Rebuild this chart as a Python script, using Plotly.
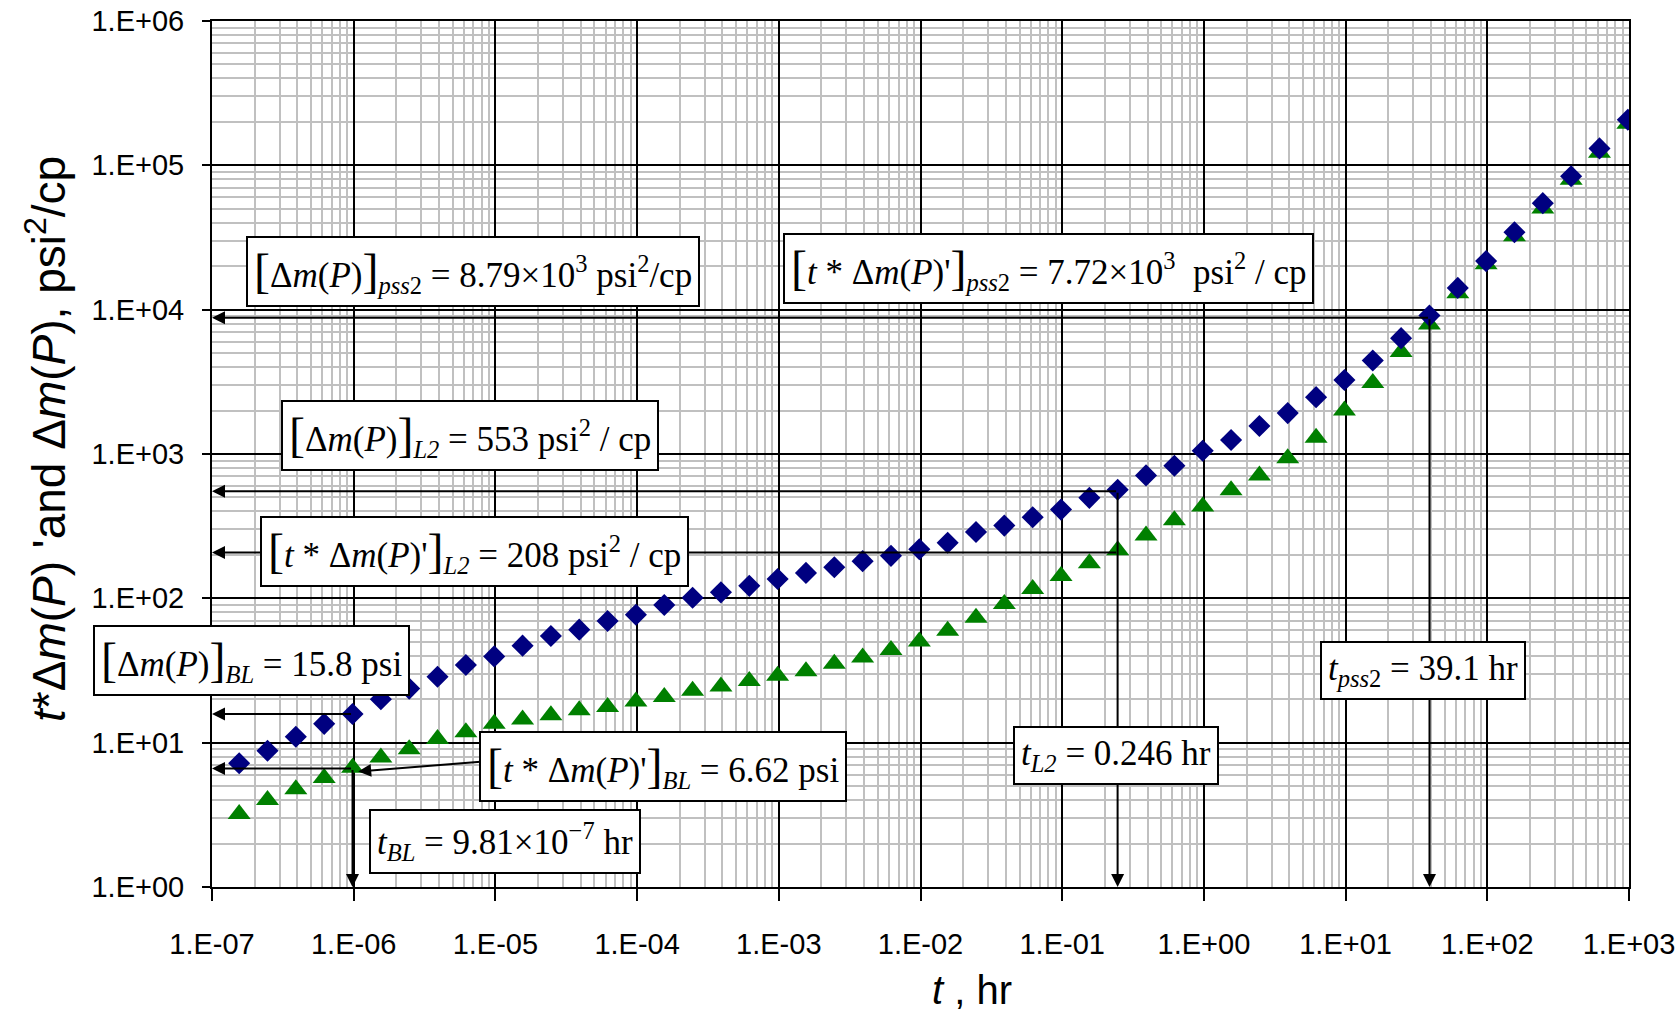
import numpy as np
import plotly.graph_objects as go

# ---------------- data ----------------
t_hr = [1.555e-7, 2.464e-7, 3.905e-7, 6.19e-7, 9.81e-7,
        1.555e-6, 2.464e-6, 3.905e-6, 6.19e-6, 9.81e-6,
        1.555e-5, 2.464e-5, 3.905e-5, 6.19e-5, 9.81e-5,
        1.555e-4, 2.464e-4, 3.905e-4, 6.19e-4, 9.81e-4,
        1.555e-3, 2.464e-3, 3.905e-3, 6.19e-3, 9.81e-3,
        1.555e-2, 2.464e-2, 3.905e-2, 6.19e-2, 9.81e-2,
        1.555e-1, 2.464e-1, 3.905e-1, 6.19e-1, 9.81e-1,
        1.555e0, 2.464e0, 3.905e0, 6.19e0, 9.81e0,
        1.555e1, 2.464e1, 3.905e1, 6.19e1, 9.81e1,
        1.555e2, 2.464e2, 3.905e2, 6.19e2, 9.81e2]

dm_psi2cp = [7.2, 8.8, 11.0, 13.5, 15.8, 20.0, 23.7, 28.6, 34.5, 39.6,
             47, 54.8, 60.7, 69.6, 77, 90, 101, 110, 122, 136,
             150, 164, 181, 197, 219, 243, 288, 319, 365, 412,
             497, 565, 711, 830, 1054, 1250, 1563, 1920, 2477, 3260,
             4440, 6350, 9100, 14150, 21700, 34400, 54700, 84000, 131000, 207000]

tdm_psi2cp = [3.2, 4.0, 4.75, 5.7, 6.7, 7.9, 9.0, 10.6, 11.8, 13.5,
              14.5, 15.5, 16.8, 17.7, 19.3, 20.7, 22.9, 24.5, 26.7, 29.1,
              31.2, 35.2, 38.9, 43.9, 50.3, 59.7, 73.3, 91.5, 116, 143,
              175, 215, 273, 347, 433, 560, 711, 935, 1294, 2000,
              3100, 5080, 7900, 13000, 20600, 32200, 50200, 79600, 122000, 194000]

x_tick_vals = [1e-7, 1e-6, 1e-5, 1e-4, 1e-3, 1e-2, 1e-1, 1e0, 1e1, 1e2, 1e3]
x_tick_text = ["1.E-07", "1.E-06", "1.E-05", "1.E-04", "1.E-03", "1.E-02",
               "1.E-01", "1.E+00", "1.E+01", "1.E+02", "1.E+03"]
y_tick_vals = [1e0, 1e1, 1e2, 1e3, 1e4, 1e5, 1e6]
y_tick_text = ["1.E+00", "1.E+01", "1.E+02", "1.E+03", "1.E+04", "1.E+05", "1.E+06"]

# characteristic points (annotated values)
t_BL, dm_BL, tdm_BL = 9.81e-7, 15.8, 6.62
t_L2, dm_L2, tdm_L2 = 0.246, 553, 208
t_pss2, dm_pss2, tdm_pss2 = 39.1, 8.79e3, 7.72e3

X_MIN, X_MAX = 1e-7, 1e3
Y_MIN, Y_MAX = 1e0, 1e6

# ---------------- layout geometry (pixels) ----------------
W, H = 1679, 1013
L, R, T, B = 212, 1629, 21, 887


def paper(xp, yp):
    return (xp - L) / (R - L), 1 - (yp - T) / (B - T)


lg = np.log10
SERIF = "Liberation Serif, Times New Roman, serif"
SANS = "Liberation Sans, Arial, sans-serif"

fig = go.Figure()
fig.add_trace(go.Scatter(x=t_hr, y=tdm_psi2cp, mode="markers", name="t*dm'",
                         marker=dict(symbol="triangle-up", size=20, color="#008000",
                                     line=dict(width=0)), showlegend=False))
fig.add_trace(go.Scatter(x=t_hr, y=dm_psi2cp, mode="markers", name="dm",
                         marker=dict(symbol="diamond", size=17, color="#000080",
                                     line=dict(width=0)), showlegend=False))

annotations = []


def arrow(x_head, y_head, x_tail, y_tail):
    annotations.append(dict(x=lg(x_head), y=lg(y_head), ax=lg(x_tail), ay=lg(y_tail),
                            xref="x", yref="y", axref="x", ayref="y", text="",
                            showarrow=True, arrowhead=2, arrowsize=1.3,
                            arrowwidth=2, arrowcolor="black"))


# horizontal arrows to the y axis
arrow(X_MIN, dm_pss2, t_pss2, dm_pss2)
arrow(X_MIN, dm_L2, t_L2, dm_L2)
arrow(X_MIN, tdm_L2, t_L2, tdm_L2)
arrow(X_MIN, dm_BL, t_BL, dm_BL)
arrow(X_MIN, tdm_BL, t_BL, tdm_BL)
# vertical arrows to the x axis
arrow(t_pss2, Y_MIN, t_pss2, dm_pss2)
arrow(t_L2, Y_MIN, t_L2, dm_L2)
arrow(t_BL, Y_MIN, t_BL, tdm_BL)

# pointer from the 6.62 box to the BL derivative point
annotations.append(dict(x=lg(t_BL) + 0.04, y=lg(tdm_BL) - 0.02, xref="x", yref="y",
                        ax=127, ay=-10, text="", showarrow=True, arrowhead=2,
                        arrowsize=1.3, arrowwidth=2, arrowcolor="black"))

BR = "<span style='font-size:48px'>[</span>"
BRc = "<span style='font-size:48px'>]</span>"
DM = "Δ<i>m</i>(<i>P</i>)"
TDM = "<i>t</i> * Δ<i>m</i>(<i>P</i>)'"

boxes = [
    (f"{BR}{DM}{BRc}<sub><i>pss</i>2</sub> = {dm_pss2/1e3:.2f}×10<sup>3</sup> psi<sup>2</sup>/cp", 473, 271),
    (f"{BR}{TDM}{BRc}<sub><i>pss</i>2</sub> = {tdm_pss2/1e3:.2f}×10<sup>3</sup>  psi<sup>2</sup> / cp", 1048, 268),
    (f"{BR}{DM}{BRc}<sub><i>L2</i></sub> = {dm_L2:g} psi<sup>2</sup> / cp", 470, 435),
    (f"{BR}{TDM}{BRc}<sub><i>L2</i></sub> = {tdm_L2:g} psi<sup>2</sup> / cp", 474, 551),
    (f"{BR}{DM}{BRc}<sub><i>BL</i></sub> = {dm_BL:g} psi", 251, 660),
    (f"{BR}{TDM}{BRc}<sub><i>BL</i></sub> = {tdm_BL:g} psi", 663, 766),
    (f"<i>t</i><sub><i>BL</i></sub> = {t_BL*1e7:.2f}×10<sup>−7</sup> hr", 505, 841),
    (f"<i>t</i><sub><i>L2</i></sub> = {t_L2:g} hr", 1116, 755),
    (f"<i>t</i><sub><i>pss</i>2</sub> = {t_pss2:g} hr", 1423, 670),
]
for text, cx, cy in boxes:
    px, py = paper(cx, cy)
    annotations.append(dict(x=px, y=py, xref="paper", yref="paper", text=text,
                            showarrow=False, xanchor="center", yanchor="middle",
                            font=dict(family=SERIF, size=35, color="black"),
                            bgcolor="white", bordercolor="black", borderwidth=2,
                            borderpad=6))

# axis titles
px, py = paper(972, 990)
annotations.append(dict(x=px, y=py, xref="paper", yref="paper",
                        xanchor="center", yanchor="middle",
                        text="<i>t</i> , hr", showarrow=False,
                        font=dict(family=SANS, size=40, color="black")))
px, py = paper(46, 439)
annotations.append(dict(x=px, y=py, xref="paper", yref="paper", textangle=-90,
                        xanchor="center", yanchor="middle",
                        text="<i>t</i>*Δ<i>m</i>(<i>P</i>) 'and Δ<i>m</i>(<i>P</i>), psi<sup>2</sup>/cp",
                        showarrow=False,
                        font=dict(family=SANS, size=46, color="black")))

axis_common = dict(type="log", showline=True, mirror=True, linecolor="black",
                   linewidth=2, showgrid=True, gridcolor="black", gridwidth=1.5,
                   ticks="outside", tickcolor="black", tickwidth=2,
                   tickfont=dict(family=SANS, size=29, color="black"),
                   tickmode="array", zeroline=False, automargin=False,
                   minor=dict(dtick="D1", showgrid=True, gridcolor="#c0c0c0",
                              gridwidth=1.5, ticks=""))

fig.update_xaxes(**axis_common, range=[lg(X_MIN), lg(X_MAX)],
                 tickvals=x_tick_vals, ticktext=x_tick_text, ticklen=12,
                 ticklabelstandoff=18)
fig.update_yaxes(**axis_common, range=[lg(Y_MIN), lg(Y_MAX)],
                 tickvals=y_tick_vals, ticktext=y_tick_text, ticklen=8,
                 ticklabelstandoff=12)

fig.update_layout(width=W, height=H, margin=dict(l=L, r=W - R, t=T, b=H - B,
                                                  autoexpand=False),
                  plot_bgcolor="white", paper_bgcolor="white",
                  annotations=annotations, showlegend=False)

fig.write_html("out.html", config={"displayModeBar": False},
               post_script="document.body.style.margin='0';")
